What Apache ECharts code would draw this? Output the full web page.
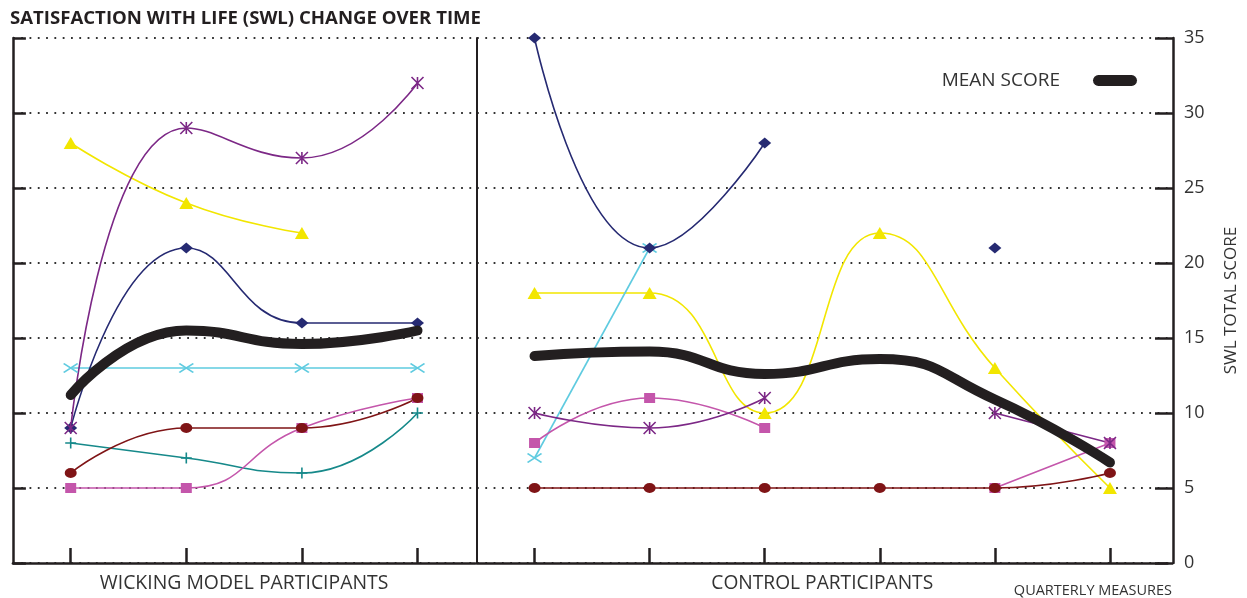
<!DOCTYPE html>
<html>
<head>
<meta charset="utf-8">
<script src="https://cdn.jsdelivr.net/npm/echarts@6/dist/echarts.min.js"></script>
<style>
html,body{margin:0;padding:0;background:#fff;}
#chart{width:1247px;height:598px;}
</style>
</head>
<body>
<div id="chart"></div>
<script>
// ---- data ----
const wickingQuarters = ['Q1', 'Q2', 'Q3', 'Q4'];
const controlQuarters = ['Q1', 'Q2', 'Q3', 'Q4', 'Q5', 'Q6'];
const yTicks = [0, 5, 10, 15, 20, 25, 30, 35];

// Wicking model participants
const wickStar     = [9, 29, 27, 32];
const wickTriangle = [28, 24, 22, null];
const wickDiamond  = [9, 21, 16, 16];
const wickCross    = [13, 13, 13, 13];
const wickCircle   = [6, 9, 9, 11];
const wickPlus     = [8, 7, 6, 10];
const wickSquare   = [5, 5, 9, 11];
const wickMean     = [11.2, 15.5, 14.6, 15.5];

// Control participants
const ctrlDiamond  = [35, 21, 28, null, 21, null];
const ctrlCross    = [7, 21, null, null, null, null];
const ctrlTriangle = [18, 18, 10, 22, 13, 5];
const ctrlSquare   = [8, 11, 9, null, 5, 8];
const ctrlStar     = [10, 9, 11, null, 10, 8];
const ctrlCircle   = [5, 5, 5, 5, 5, 6];
const ctrlMean     = [13.8, 14.1, 12.6, 13.6, 10.9, 6.7];

// ---- styling ----
const FONT = "'Open Sans', sans-serif";
const INK = '#231f20';
const C = {
  navy: '#262a72', yellow: '#f2e600', purple: '#7c2886', cyan: '#5fcbe0',
  red: '#7f1416', teal: '#16898a', pink: '#c456ab'
};
const STAR = 'path://M0,0 L10,10 M10,0 L0,10 M5,0 L5,10';
const XMARK = 'path://M0,0 L10,10 M10,0 L0,10';
const PLUS = 'path://M5,0 L5,10 M0,5 L10,5';

function line(name, data, color, symbol, size, grid, stroked) {
  return {
    name: name, type: 'line', data: data,
    xAxisIndex: grid, yAxisIndex: grid,
    smooth: true, connectNulls: false,
    symbol: symbol, symbolSize: size, showSymbol: true, showAllSymbol: true,
    lineStyle: { color: color, width: 1.6 },
    itemStyle: stroked
      ? { color: color, borderColor: color, borderWidth: 1.6 }
      : { color: color, borderWidth: 0 },
    emphasis: { disabled: true },
    z: 3
  };
}
function meanLine(data, grid) {
  return {
    name: 'MEAN SCORE', type: 'line', data: data,
    xAxisIndex: grid, yAxisIndex: grid,
    smooth: true, showSymbol: false,
    lineStyle: { color: INK, width: 10, cap: 'round', join: 'round' },
    itemStyle: { color: INK },
    emphasis: { disabled: true },
    z: 5
  };
}

const split = { show: true, lineStyle: { color: '#333', width: 1.8, type: [1.8, 6.5] } };
const axLine = { show: true, lineStyle: { color: INK, width: 2.5 } };

const option = {
  animation: false,
  backgroundColor: '#fff',
  title: [
    { text: 'SATISFACTION WITH LIFE (SWL) CHANGE OVER TIME', left: 5, top: 4,
      textStyle: { fontFamily: FONT, fontWeight: 'bold', fontSize: 18.6, color: INK } },
    { text: 'QUARTERLY MEASURES', right: 70, top: 578,
      textStyle: { fontFamily: FONT, fontWeight: 'normal', fontSize: 14.5, color: '#333' } }
  ],
  legend: {
    data: ['MEAN SCORE'], right: 105, top: 66, align: 'right',
    icon: 'path://M5,0 H39 A5,5 0 0 1 39,11 H5 A5,5 0 0 1 5,0 Z',
    itemWidth: 44, itemHeight: 11, selectedMode: false,
    textStyle: { fontFamily: FONT, fontSize: 19, color: '#333', padding: [0, 28, 0, 0] }
  },
  grid: [
    { left: 12.9, right: 1247 - 475.3, top: 38, bottom: 35, outerBoundsMode: 'none', containLabel: false },
    { left: 477, right: 1247 - 1167.5, top: 38, bottom: 35, outerBoundsMode: 'none', containLabel: false }
  ],
  xAxis: [
    { type: 'category', gridIndex: 0, data: wickingQuarters, boundaryGap: true,
      axisLine: axLine,
      axisTick: { show: true, inside: true, length: 15, alignWithLabel: true, lineStyle: { color: INK, width: 2.5 } },
      axisLabel: { show: false }, splitLine: { show: false },
      name: 'WICKING MODEL PARTICIPANTS', nameLocation: 'middle', nameGap: 11,
      nameTextStyle: { fontFamily: FONT, fontSize: 19.4, color: '#333' } },
    { type: 'category', gridIndex: 1, data: controlQuarters, boundaryGap: true,
      axisLine: axLine,
      axisTick: { show: true, inside: true, length: 15, alignWithLabel: true, lineStyle: { color: INK, width: 2.5 } },
      axisLabel: { show: false }, splitLine: { show: false },
      name: 'CONTROL PARTICIPANTS', nameLocation: 'middle', nameGap: 11,
      nameTextStyle: { fontFamily: FONT, fontSize: 19.2, color: '#333' } }
  ],
  yAxis: [
    { type: 'value', gridIndex: 0, position: 'left', min: 0, max: 35, interval: 5,
      axisLine: axLine,
      axisTick: { show: true, inside: true, length: 13, lineStyle: { color: INK, width: 2.5 } },
      axisLabel: { show: false }, splitLine: split },
    { type: 'value', gridIndex: 1, position: 'right', offset: 5.5, min: 0, max: 35, interval: 5,
      axisLine: axLine,
      axisTick: { show: true, inside: true, length: 18, lineStyle: { color: INK, width: 2.5 } },
      axisLabel: { show: true, margin: 11, fontFamily: FONT, fontSize: 18, color: '#333',
        formatter: function (v) { return yTicks.indexOf(v) >= 0 ? String(v) : ''; } },
      splitLine: split,
      name: 'SWL TOTAL SCORE', nameLocation: 'middle', nameRotate: 90, nameGap: 50,
      nameTextStyle: { fontFamily: FONT, fontSize: 17, color: '#333' } },
    { type: 'value', gridIndex: 1, position: 'left', min: 0, max: 35, interval: 5,
      axisLine: { show: true, lineStyle: { color: INK, width: 2 } },
      axisTick: { show: false }, axisLabel: { show: false }, splitLine: { show: false } }
  ],
  series: [
    line('W Triangle', wickTriangle, C.yellow, 'triangle', [14, 12], 0),
    line('W Cross', wickCross, C.cyan, XMARK, [14, 9], 0, true),
    line('W Plus', wickPlus, C.teal, PLUS, [11, 11], 0, true),
    line('W Square', wickSquare, C.pink, 'rect', [11, 10], 0),
    line('W Circle', wickCircle, C.red, 'circle', [12, 10], 0),
    line('W Diamond', wickDiamond, C.navy, 'diamond', [13, 11], 0),
    line('W Star', wickStar, C.purple, STAR, [12, 12], 0, true),
    meanLine(wickMean, 0),
    line('C Triangle', ctrlTriangle, C.yellow, 'triangle', [14, 12], 1),
    line('C Cross', ctrlCross, C.cyan, XMARK, [14, 9], 1, true),
    line('C Square', ctrlSquare, C.pink, 'rect', [11, 10], 1),
    line('C Circle', ctrlCircle, C.red, 'circle', [12, 10], 1),
    line('C Star', ctrlStar, C.purple, STAR, [12, 12], 1, true),
    line('C Diamond', ctrlDiamond, C.navy, 'diamond', [13, 11], 1),
    meanLine(ctrlMean, 1)
  ]
};

const chart = echarts.init(document.getElementById('chart'), null, { renderer: 'canvas' });
chart.setOption(option);
</script>
</body>
</html>
